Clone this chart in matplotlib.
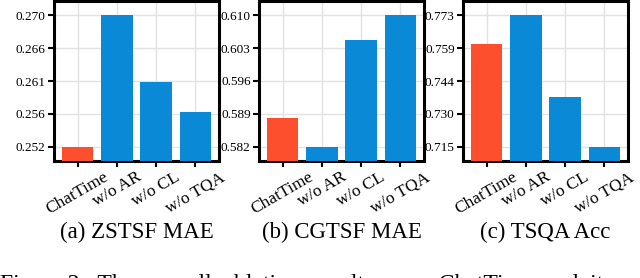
import numpy as np
import matplotlib
matplotlib.use("Agg")
import matplotlib.pyplot as plt

plt.rcParams["font.family"] = ["Liberation Serif", "DejaVu Serif"]

# data
methods = ["ChatTime", "w/o AR", "w/o CL", "w/o TQA"]
zstsf_mae = [0.2518, 0.2702, 0.2609, 0.2566]
cgtsf_mae = [0.5882, 0.5820, 0.6047, 0.6100]
tsqa_acc = [0.7606, 0.7732, 0.7372, 0.7152]
captions = ["(a) ZSTSF MAE", "(b) CGTSF MAE", "(c) TSQA Acc"]

red = "#FD4F2D"
blue = "#0A8AD6"
colors = [red, blue, blue, blue]

W, H = 640, 278
fig = plt.figure(figsize=(W / 100, H / 100), dpi=100)

lefts = [54, 259, 463]
width = 165
bottom_px = 161
top_px = 1

for left, vals, cap in zip(lefts, [zstsf_mae, cgtsf_mae, tsqa_acc], captions):
    ax = fig.add_axes([left / W, (H - bottom_px) / H, width / W, (bottom_px - top_px) / H])
    x = np.arange(len(methods))
    ax.bar(x, vals, width=0.8, color=colors, zorder=3)

    lo, hi = min(vals), max(vals)
    ticks = np.linspace(lo, hi, 5)
    step = ticks[1] - ticks[0]
    ax.set_ylim(lo - 0.43 * step, hi + 0.43 * step)
    ax.set_yticks(ticks)
    ax.set_yticklabels([f"{t:.3f}" for t in ticks], fontsize=9.5)
    ax.set_xlim(-0.6, 3.6)
    ax.set_xticks(x)
    ax.set_xticklabels(methods, rotation=30, fontsize=12.5)

    ax.grid(True, color="#E2E2E2", linewidth=1.0, zorder=0)
    for s in ax.spines.values():
        s.set_linewidth(2.2)
        s.set_color("black")
    ax.tick_params(axis="both", direction="out", length=4.5, width=1.5, pad=1.5)

    # caption under each panel
    ax.text(0.5, -77 / 160, cap, transform=ax.transAxes, ha="center", va="baseline", fontsize=16.5)

# figure caption, cut off by the bottom edge as in the reference
fig.text(0.0, (H - 290) / H, "Figure 2:  The  overall  ablation  results  over  ChatTime  and  its",
         fontsize=17, ha="left", va="baseline")

fig.savefig("out.png", dpi=100)
